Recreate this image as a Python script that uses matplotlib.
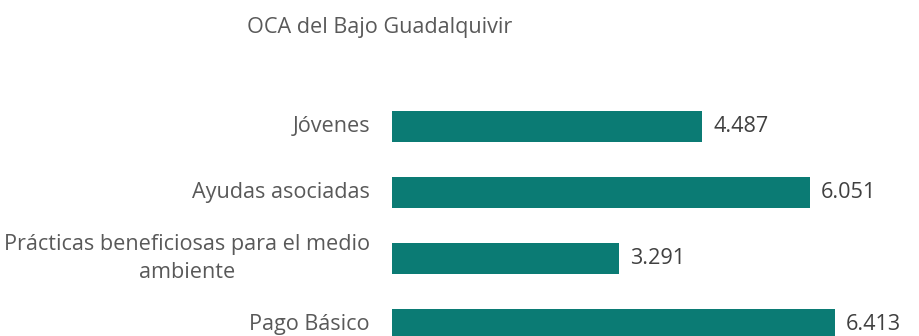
import matplotlib.pyplot as plt

plt.rcParams['font.family'] = ['Open Sans', 'DejaVu Sans']

categories = ['Pago Básico', 'Prácticas beneficiosas para el medio\nambiente',
              'Ayudas asociadas', 'Jóvenes']
values = [6.413, 3.291, 6.051, 4.487]
value_labels = ['6.413', '3.291', '6.051', '4.487']
title = 'OCA del Bajo Guadalquivir'

bar_color = '#0B7B74'
text_color = '#595959'
fs = 15.6

fig = plt.figure(figsize=(9.2, 3.36), dpi=100)
ax = fig.add_axes([392 / 920, 0, 518 / 920, 246 / 336])

pos = list(range(len(categories)))
ax.barh(pos, values, height=0.47, color=bar_color)
ax.set_xlim(0, 518 / 69.1)
ax.set_ylim(-0.18, 3.555)

for y, v, lab in zip(pos, values, value_labels):
    ax.text(v + 0.16, y, lab, ha='left', va='center', fontsize=fs, color='#404040')

# category labels, right-aligned to the left of the bars
for y, cat in zip(pos, categories):
    ax.text(-0.32, y, cat, ha='right', va='center', multialignment='center',
            fontsize=fs, color=text_color, linespacing=1.45)

ax.set_yticks([])
ax.set_xticks([])
for s in ax.spines.values():
    s.set_visible(False)

fig.text(247 / 920, 1 - 27 / 336, title, ha='left', va='center', fontsize=fs, color=text_color)

fig.savefig('out.png', dpi=100, facecolor='white')
